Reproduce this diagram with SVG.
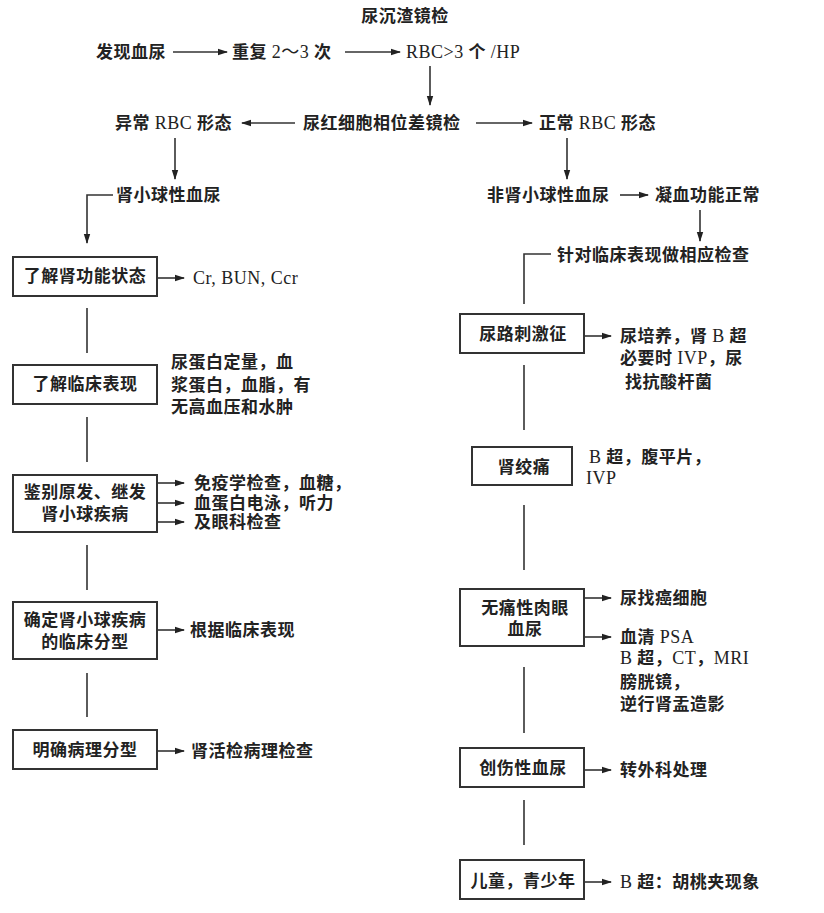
<svg xmlns="http://www.w3.org/2000/svg" width="824" height="913" viewBox="0 0 824 913">
<style>
text{font-family:"Liberation Serif","Noto Sans CJK SC",serif;font-size:17px;fill:#222;font-weight:bold;letter-spacing:0.5px}
.l{font-weight:normal;font-size:18px}
.m{text-anchor:middle}
.box{fill:#fff;stroke:#333;stroke-width:2}
.c{fill:none;stroke:#333;stroke-width:1.6}
</style>
<defs>
<marker id="ah" markerWidth="10" markerHeight="8" refX="9" refY="4" orient="auto" markerUnits="userSpaceOnUse">
<path d="M0,0.8 L10,4 L0,7.2 Z" fill="#222"/>
</marker>
</defs>
<rect width="824" height="913" fill="#fff"/>
<g id="connectors">
<line class="c" x1="173" y1="52" x2="227" y2="52" marker-end="url(#ah)"/>
<line class="c" x1="345" y1="52" x2="400" y2="52" marker-end="url(#ah)"/>
<line class="c" x1="430" y1="66" x2="430" y2="105" marker-end="url(#ah)"/>
<line class="c" x1="295" y1="123" x2="242" y2="123" marker-end="url(#ah)"/>
<line class="c" x1="476" y1="123" x2="532" y2="123" marker-end="url(#ah)"/>
<line class="c" x1="175" y1="138" x2="175" y2="179" marker-end="url(#ah)"/>
<line class="c" x1="567" y1="138" x2="567" y2="179" marker-end="url(#ah)"/>
<polyline class="c" points="113,195 87,195 87,243" marker-end="url(#ah)"/>
<line class="c" x1="620" y1="195" x2="648" y2="195" marker-end="url(#ah)"/>
<line class="c" x1="700" y1="210" x2="700" y2="241" marker-end="url(#ah)"/>
<polyline class="c" points="551,254 524,254 524,304"/>
<line class="c" x1="157" y1="278" x2="184" y2="278" marker-end="url(#ah)"/>
<line class="c" x1="87" y1="308" x2="87" y2="353"/>
<line class="c" x1="87" y1="417" x2="87" y2="462"/>
<line class="c" x1="157" y1="483" x2="184" y2="483" marker-end="url(#ah)"/>
<line class="c" x1="157" y1="503" x2="184" y2="503" marker-end="url(#ah)"/>
<line class="c" x1="157" y1="522" x2="184" y2="522" marker-end="url(#ah)"/>
<line class="c" x1="87" y1="545" x2="87" y2="590"/>
<line class="c" x1="157" y1="630" x2="184" y2="630" marker-end="url(#ah)"/>
<line class="c" x1="87" y1="673" x2="87" y2="717"/>
<line class="c" x1="157" y1="751" x2="184" y2="751" marker-end="url(#ah)"/>
<line class="c" x1="584" y1="336" x2="611" y2="336" marker-end="url(#ah)"/>
<line class="c" x1="524" y1="365" x2="524" y2="430"/>
<line class="c" x1="524" y1="505" x2="524" y2="570"/>
<line class="c" x1="584" y1="598" x2="611" y2="598" marker-end="url(#ah)"/>
<line class="c" x1="584" y1="637" x2="611" y2="637" marker-end="url(#ah)"/>
<line class="c" x1="524" y1="667" x2="524" y2="733"/>
<line class="c" x1="584" y1="770" x2="611" y2="770" marker-end="url(#ah)"/>
<line class="c" x1="524" y1="800" x2="524" y2="845"/>
<line class="c" x1="584" y1="882" x2="611" y2="882" marker-end="url(#ah)"/>
</g>
<g id="title"><text class="m" x="405" y="22">尿沉渣镜检</text></g>
<g id="n_found"><text x="96" y="58">发现血尿</text></g>
<g id="n_repeat"><text x="232" y="58">重复 <tspan class="l">2～3</tspan> 次</text></g>
<g id="n_rbc"><text x="406" y="58"><tspan class="l">RBC&gt;3</tspan> 个 <tspan class="l">/HP</tspan></text></g>
<g id="n_abn"><text x="115" y="129">异常 <tspan class="l">RBC</tspan> 形态</text></g>
<g id="n_phase"><text x="303" y="129">尿红细胞相位差镜检</text></g>
<g id="n_norm"><text x="539" y="129">正常 <tspan class="l">RBC</tspan> 形态</text></g>
<g id="n_glom"><text x="116" y="201">肾小球性血尿</text></g>
<g id="n_nonglom"><text x="487" y="201">非肾小球性血尿</text></g>
<g id="n_coag"><text x="655" y="201">凝血功能正常</text></g>
<g id="n_target"><text x="557" y="261">针对临床表现做相应检查</text></g>

<g id="n_renal"><rect class="box" x="13" y="257" width="144" height="39"/><text class="m" x="85" y="282">了解肾功能状态</text></g>
<g id="t_renal"><text x="193" y="284" class="l">Cr, BUN, Ccr</text></g>
<g id="n_clin"><rect class="box" x="13" y="365" width="144" height="39"/><text class="m" x="85" y="390">了解临床表现</text></g>
<g id="t_clin"><text x="171" y="368">尿蛋白定量，血</text><text x="171" y="391">浆蛋白，血脂，有</text><text x="171" y="413">无高血压和水肿</text></g>
<g id="n_diff"><rect class="box" x="13" y="475" width="144" height="57"/><text class="m" x="85" y="498">鉴别原发、继发</text><text class="m" x="85" y="520">肾小球疾病</text></g>
<g id="t_diff"><text x="194" y="489">免疫学检查，血糖，</text><text x="194" y="509">血蛋白电泳，听力</text><text x="194" y="528">及眼科检查</text></g>
<g id="n_type"><rect class="box" x="13" y="602" width="144" height="57"/><text class="m" x="85" y="626">确定肾小球疾病</text><text class="m" x="85" y="648">的临床分型</text></g>
<g id="t_type"><text x="190" y="636">根据临床表现</text></g>
<g id="n_path"><rect class="box" x="13" y="730" width="144" height="39"/><text class="m" x="85" y="756">明确病理分型</text></g>
<g id="t_path"><text x="191" y="757">肾活检病理检查</text></g>

<g id="n_uti"><rect class="box" x="460" y="314" width="124" height="39"/><text class="m" x="523" y="340">尿路刺激征</text></g>
<g id="t_uti"><text x="620" y="342">尿培养，肾 <tspan class="l">B</tspan> 超</text><text x="620" y="364">必要时 <tspan class="l">IVP</tspan>，尿</text><text x="625" y="388">找抗酸杆菌</text></g>
<g id="n_colic"><rect class="box" x="472" y="447" width="100" height="38"/><text class="m" x="524" y="473">肾绞痛</text></g>
<g id="t_colic"><text x="589" y="463"><tspan class="l">B</tspan> 超，腹平片，</text><text x="586" y="484" class="l">IVP</text></g>
<g id="n_painless"><rect class="box" x="460" y="589" width="124" height="57"/><text class="m" x="525" y="614">无痛性肉眼</text><text class="m" x="525" y="635">血尿</text></g>
<g id="t_painless"><text x="620" y="604">尿找癌细胞</text><text x="620" y="643">血清 <tspan class="l">PSA</tspan></text><text x="620" y="664"><tspan class="l">B</tspan> 超，<tspan class="l">CT</tspan>，<tspan class="l">MRI</tspan></text><text x="620" y="688">膀胱镜，</text><text x="620" y="710">逆行肾盂造影</text></g>
<g id="n_trauma"><rect class="box" x="460" y="748" width="124" height="39"/><text class="m" x="523" y="774">创伤性血尿</text></g>
<g id="t_trauma"><text x="620" y="776">转外科处理</text></g>
<g id="n_child"><rect class="box" x="460" y="860" width="124" height="39"/><text class="m" x="523" y="887">儿童，青少年</text></g>
<g id="t_child"><text x="620" y="888"><tspan class="l">B</tspan> 超：胡桃夹现象</text></g>
</svg>
